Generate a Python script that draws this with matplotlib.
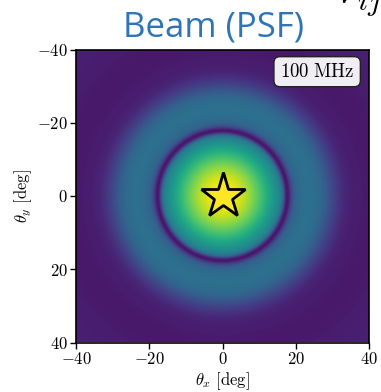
import numpy as np
import matplotlib
matplotlib.use("Agg")
import matplotlib.pyplot as plt

plt.rcParams["mathtext.fontset"] = "cm"
plt.rcParams["font.family"] = "serif"

# radial beam profile (normalised colour level), radius in degrees
radius_deg = [0, 2, 4, 6, 8, 10, 12, 14, 15, 16, 16.6, 17.1, 17.6, 18.1, 18.6,
              19.3, 20, 22, 24, 26, 27, 28, 29, 30, 31, 32, 33, 34, 36, 40,
              45, 50, 57]
beam_level = [1.00, 0.99, 0.96, 0.90, 0.82, 0.73, 0.63, 0.53, 0.48, 0.42,
              0.33, 0.17, 0.06, 0.07, 0.17, 0.27, 0.32, 0.36, 0.37, 0.35,
              0.33, 0.30, 0.26, 0.22, 0.18, 0.15, 0.12, 0.10, 0.08, 0.07,
              0.07, 0.08, 0.09]
theta = np.linspace(-40, 40, 321)
ticks = [-40, -20, 0, 20, 40]
freq_label = r"$100\ \mathrm{MHz}$"

tx, ty = np.meshgrid(theta, theta)
image = np.interp(np.hypot(tx, ty), radius_deg, beam_level)

fig = plt.figure(figsize=(3.81, 3.92), dpi=100)
ax = fig.add_axes([76 / 381, 1 - 343 / 392, 293 / 381, 294 / 392])
ax.imshow(image, cmap="viridis", vmin=0, vmax=1, origin="upper",
          extent=[-40, 40, 40, -40], interpolation="bilinear")
ax.plot([0], [0], marker="*", markersize=34, markerfacecolor="#fde725",
        markeredgecolor="black", markeredgewidth=2)

ax.set_xlim(-40, 40)
ax.set_ylim(40, -40)
ax.set_xticks(ticks)
ax.set_yticks(ticks)
ax.set_xticklabels([rf"${t}$" for t in ticks], fontsize=12)
ax.set_yticklabels([rf"${t}$" for t in ticks], fontsize=12)
ax.set_xlabel(r"$\theta_x\ \mathrm{[deg]}$", fontsize=12, labelpad=2)
ax.set_ylabel(r"$\theta_y\ \mathrm{[deg]}$", fontsize=12, labelpad=2)
ax.tick_params(length=4, width=1, pad=2)
for s in ax.spines.values():
    s.set_linewidth(1.2)

ax.text(0.95, 0.955, freq_label, transform=ax.transAxes, ha="right", va="top",
        fontsize=13.5,
        bbox=dict(boxstyle="round,pad=0.32", facecolor="#f0eef3", edgecolor="#222222", linewidth=1))

fig.text(0.56, 0.906, "Beam (PSF)", family="Open Sans", fontsize=25,
         color="#2e75b6", ha="center", va="baseline")
fig.text(1.0, 0.99, r"$V_{ij}$", fontsize=30, ha="right", va="baseline")

fig.savefig("out.png", dpi=100)
